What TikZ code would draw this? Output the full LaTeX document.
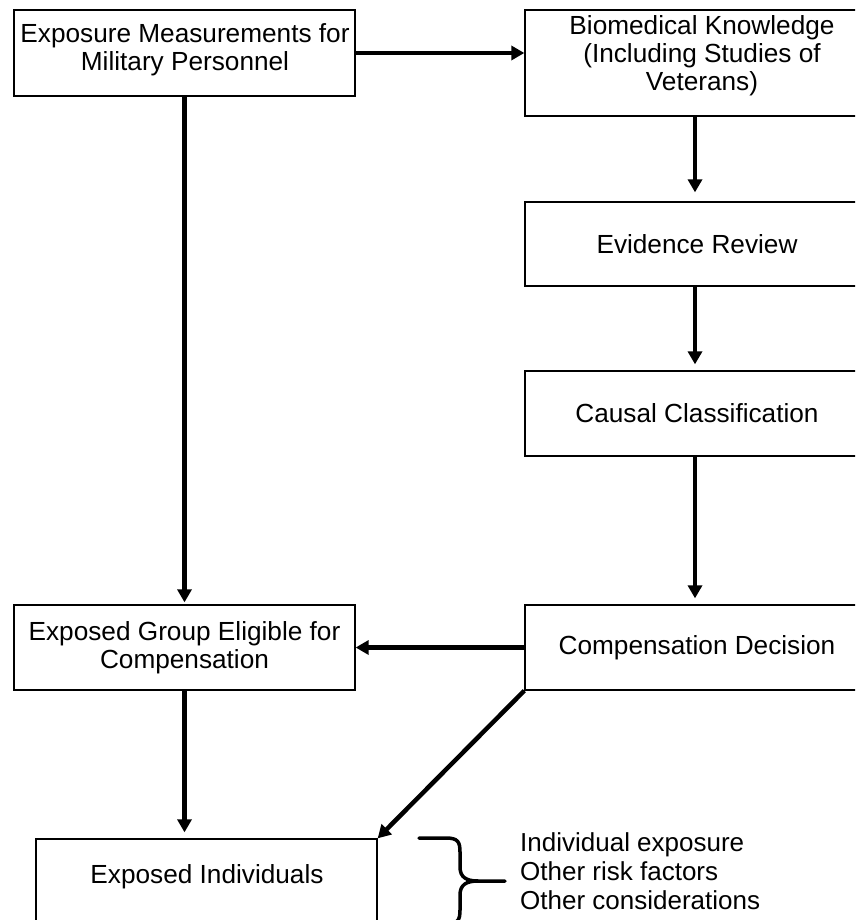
\documentclass[tikz,border=0pt]{standalone}
\usepackage{fontspec}
\setmainfont{Liberation Sans}
\usetikzlibrary{arrows.meta,calc}
\begin{document}
\begin{tikzpicture}[x=1pt,y=-1pt,
  box/.style={draw, line width=1.3pt, rectangle, inner sep=0pt, align=center,
    font=\fontsize{26.2}{28}\selectfont},
  lbl/.style={inner sep=0pt, align=center, font=\fontsize{26.2}{28}\selectfont},
  flow/.style={line width=4.5pt, -{Triangle[width=14pt,length=13pt]}},
]
\useasboundingbox (0,0) rectangle (855,920);
\clip (0,0) rectangle (855,920);

% left column
\node[box, minimum width=341pt, minimum height=86pt] (b1) at (184.5,53) {};
\node[lbl] (t1) at (185,49.5) {Exposure Measurements for\\Military Personnel};
\node[box, minimum width=341pt, minimum height=85pt] (b6) at (184.5,647.5)
  {Exposed Group Eligible for\\Compensation};
\node[box, minimum width=341pt, minimum height=86pt] (b7) at (206.5,882) {};
\node[lbl] (t7) at (207,877) {Exposed Individuals};

% right column
\node[box, minimum width=344pt, minimum height=106pt] (b2) at (697,63) {};
\node[lbl] (t2) at (702,55.5) {Biomedical Knowledge\\(Including Studies of\\Veterans)};
\node[box, minimum width=344pt, minimum height=84pt] (b3) at (697,244) {Evidence Review};
\node[box, minimum width=344pt, minimum height=85pt] (b4) at (697,413.5) {Causal Classification};
\node[box, minimum width=344pt, minimum height=85pt] (b5) at (697,647.5) {Compensation Decision};

% connectors
\draw[flow] (b1.east) -- (b2.west |- b1.east);
\draw[flow, shorten >=2pt] (b1.south) -- (b6.north);
\draw[flow, shorten >=9pt] ($(b2.south)+(-2,0)$) -- ($(b3.north)+(-2,0)$);
\draw[flow, shorten >=6pt] ($(b3.south)+(-2,0)$) -- ($(b4.north)+(-2,0)$);
\draw[flow, shorten >=6pt] ($(b4.south)+(-2,0)$) -- ($(b5.north)+(-2,0)$);
\draw[flow] (b5.west) -- (b6.east);
\draw[flow, shorten >=6pt] (b6.south) -- (b7.north -| b6.south);
\draw[flow] (b5.south west) -- (b7.north east);

% brace and the factors it gathers
\draw[line width=3.5pt, line cap=round]
  (419,838) -- (446,838) .. controls (458,838) and (460,842) .. (460,852)
  -- (460,867) .. controls (460,877) and (466,881) .. (478,881) -- (505,881);
\draw[line width=3.5pt, line cap=round]
  (478,881) .. controls (466,881) and (460,885) .. (460,895)
  -- (460,910) .. controls (460,920) and (458,924) .. (446,924) -- (419,924);
\node[lbl, anchor=west, align=left, font=\fontsize{26}{29}\selectfont] (notes) at (520,871)
  {Individual exposure\\Other risk factors\\Other considerations};
\end{tikzpicture}
\end{document}
